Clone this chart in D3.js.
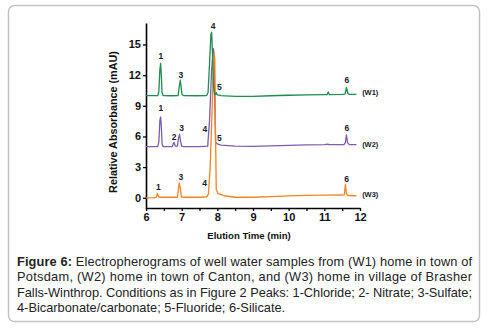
<!DOCTYPE html>
<html>
<head>
<meta charset="utf-8">
<script src="https://cdn.jsdelivr.net/npm/d3@7"></script>
<style>
  body { margin: 0; background: #fff; }
  svg { display: block; font-family: "Liberation Sans", Arial, sans-serif; }
  .tick text { font-weight: bold; font-size: 11px; fill: #111; }
</style>
</head>
<body>
<div id="chart"></div>
<script>
/* Electropherograms of well water samples */

const width = 488, height = 332;

// traces: [time (min), absorbance (mAU)]
const w1 = [[6.00,10.0],[6.20,10.0],[6.33,10.0],[6.36,10.4],[6.39,12.6],[6.41,13.15],[6.43,12.0],[6.45,10.3],[6.48,10.0],
  [6.70,9.98],[6.90,10.0],[6.93,10.8],[6.96,11.5],[6.98,11.0],[7.01,10.1],[7.05,10.0],[7.40,9.98],[7.70,10.0],
  [7.74,10.3],[7.78,13.0],[7.82,16.0],[7.84,16.2],[7.86,14.5],[7.89,11.0],[7.92,10.1],[7.95,10.15],[7.97,10.3],
  [7.99,10.1],[8.10,10.0],[8.50,9.93],[9.00,9.92],[9.50,9.98],[10.0,10.03],[10.5,10.06],[11.0,10.1],[11.08,10.1],
  [11.11,10.35],[11.14,10.1],[11.50,10.12],[11.58,10.15],[11.62,10.8],[11.66,10.2],[11.70,10.12],[11.90,10.12]];

const w2 = [[6.00,5.0],[6.33,5.0],[6.36,5.5],[6.39,7.6],[6.41,7.9],[6.43,7.0],[6.45,5.3],[6.48,5.0],[6.74,5.0],
  [6.77,5.35],[6.79,5.4],[6.82,5.05],[6.88,5.05],[6.91,5.8],[6.94,6.2],[6.97,5.5],[7.00,5.05],[7.05,5.0],
  [7.50,5.0],[7.73,5.05],[7.78,7.5],[7.84,12.5],[7.89,14.6],[7.91,14.0],[7.93,9.0],[7.95,5.5],[7.98,5.3],
  [8.10,5.15],[8.50,5.05],[9.00,5.03],[9.50,5.08],[10.0,5.13],[10.5,5.17],[11.0,5.2],[11.1,5.25],[11.12,5.2],
  [11.55,5.2],[11.59,5.4],[11.62,6.15],[11.65,5.4],[11.70,5.2],[11.90,5.2]];

const w3 = [[6.00,0.0],[6.28,0.02],[6.30,0.2],[6.32,0.43],[6.34,0.2],[6.37,0.05],[6.88,0.05],[6.91,0.8],
  [6.93,1.45],[6.96,1.0],[6.99,0.1],[7.05,0.05],[7.50,0.05],[7.70,0.1],[7.75,0.35],[7.80,3.0],[7.86,9.5],
  [7.91,14.2],[7.93,13.5],[7.95,6.0],[7.97,0.8],[8.02,0.4],[8.20,0.2],[8.50,0.05],[9.00,0.05],[9.50,0.12],
  [10.0,0.18],[10.5,0.23],[11.0,0.26],[11.5,0.27],[11.56,0.3],[11.59,1.3],[11.62,0.4],[11.66,0.22],[11.90,0.2]];

const seriesNames = ["(W1)", "(W2)", "(W3)"];
const seriesLabelAt = [10.32, 5.23, 0.34];   // mAU where the name sits
const colors = ["#1f8b4c", "#7c5cae", "#f5841f"];

// peak numbers: [series index, time, mAU, text]
const peakLabels = [
  [0, 6.42, 13.87, "1"], [0, 6.98, 12.02, "3"], [0, 7.88, 16.76, "4"], [0, 8.055, 10.81, "5"], [0, 11.635, 11.53, "6"],
  [1, 6.42, 8.79, "1"], [1, 6.79, 5.98, "2"], [1, 7.0, 6.78, "3"], [1, 7.65, 6.70, "4"], [1, 8.055, 5.82, "5"], [1, 11.635, 6.83, "6"],
  [2, 6.345, 1.03, "1"], [2, 6.98, 2.06, "3"], [2, 7.645, 1.42, "4"], [2, 11.627, 1.84, "6"]
];

const yTicks = [0, 3, 6, 9, 12, 15];
const xTicks = [6, 7, 8, 9, 10, 11, 12];
const xMinor = [6.5, 7.5, 8.5, 9.5, 10.5, 11.5];

const caption = [
  [["Figure 6:", true], [" Electropherograms of well water samples from (W1) home in town of", false]],
  [["Potsdam, (W2) home in town of Canton, and (W3) home in village of Brasher", false]],
  [["Falls-Winthrop. Conditions as in Figure 2 Peaks: 1-Chloride; 2- Nitrate; 3-Sulfate;", false]],
  [["4-Bicarbonate/carbonate; 5-Fluoride; 6-Silicate.", false]]
];

const svg = d3.select("#chart")
  .append("svg")
  .attr("width", width)
  .attr("height", height);

// frame
svg.append("rect")
  .attr("x", 8.5).attr("y", 5.5)
  .attr("width", 471).attr("height", 316)
  .attr("rx", 6)
  .attr("fill", "#fff")
  .attr("stroke", "#c4c4c4")
  .attr("stroke-width", 1.5);

let x = d3.scaleLinear().domain([6, 12]).range([146, 360]);
let y = d3.scaleLinear().domain([-1, 17.1]).range([208, 23]);

// Y axis
svg.append("g")
  .attr("transform", `translate(${x(6)},0)`)
  .call(d3.axisLeft(y).tickValues(yTicks).tickSize(3).tickPadding(2).tickSizeOuter(0))
  .call(g => g.select(".domain").attr("stroke-width", 1.6))
  .call(g => g.selectAll(".tick line").attr("stroke-width", 1.3));

// X axis: minor half-minute ticks, then the labelled ones
svg.append("g")
  .attr("transform", `translate(0,${y(-1)})`)
  .call(d3.axisBottom(x).tickValues(xMinor).tickSize(3).tickFormat("").tickSizeOuter(0))
  .call(g => g.select(".domain").remove())
  .call(g => g.selectAll(".tick line").attr("stroke-width", 1.3));

svg.append("g")
  .attr("transform", `translate(0,${y(-1)})`)
  .call(d3.axisBottom(x).tickValues(xTicks).tickFormat(d3.format("d")).tickSize(3).tickPadding(2).tickSizeOuter(0))
  .call(g => g.select(".domain").attr("stroke-width", 1.6))
  .call(g => g.selectAll(".tick line").attr("stroke-width", 1.3));

// axis titles
svg.append("text")
  .attr("transform", `translate(117,122) rotate(-90)`)
  .attr("text-anchor", "middle")
  .attr("font-size", 10.8)
  .attr("font-weight", "bold")
  .attr("fill", "#111")
  .text("Relative Absorbance (mAU)");

svg.append("text")
  .attr("x", 249)
  .attr("y", 238.5)
  .attr("text-anchor", "middle")
  .attr("font-size", 9.6)
  .attr("font-weight", "bold")
  .attr("fill", "#111")
  .text("Elution Time (min)");

// traces
let line = d3.line()
  .x(d => x(d[0]))
  .y(d => y(d[1]));

const traces = [w2, w3, w1];
const traceColors = [colors[1], colors[2], colors[0]];
traces.forEach((t, i) => {
  svg.append("path")
    .datum(t)
    .attr("d", line)
    .attr("fill", "none")
    .attr("stroke", traceColors[i])
    .attr("stroke-width", 1.3)
    .attr("stroke-linejoin", "round");
});

// peak numbers
svg.append("g")
  .selectAll("text")
  .data(peakLabels)
  .join("text")
  .attr("x", d => x(d[1]))
  .attr("y", d => y(d[2]))
  .attr("dy", "0.35em")
  .attr("text-anchor", "middle")
  .attr("font-size", 8.5)
  .attr("font-weight", "bold")
  .attr("fill", "#1a1a2a")
  .text(d => d[3]);

// series names
svg.append("g")
  .selectAll("text")
  .data(seriesNames)
  .join("text")
  .attr("x", x(12.06))
  .attr("y", (d, i) => y(seriesLabelAt[i]))
  .attr("dy", "0.35em")
  .attr("font-size", 7.5)
  .attr("font-weight", "bold")
  .attr("fill", "#1a1a2a")
  .text(d => d);

// caption
const cap = svg.append("g").attr("font-size", 12.8).attr("fill", "#222");
caption.forEach((parts, i) => {
  let t = cap.append("text")
    .attr("x", 17)
    .attr("y", 266 + i * 15.4);
  if (i < 3) t.attr("textLength", 455).attr("lengthAdjust", "spacing");
  parts.forEach(p => {
    t.append("tspan")
      .attr("font-weight", p[1] ? "bold" : "normal")
      .text(p[0]);
  });
});
</script>
</body>
</html>
